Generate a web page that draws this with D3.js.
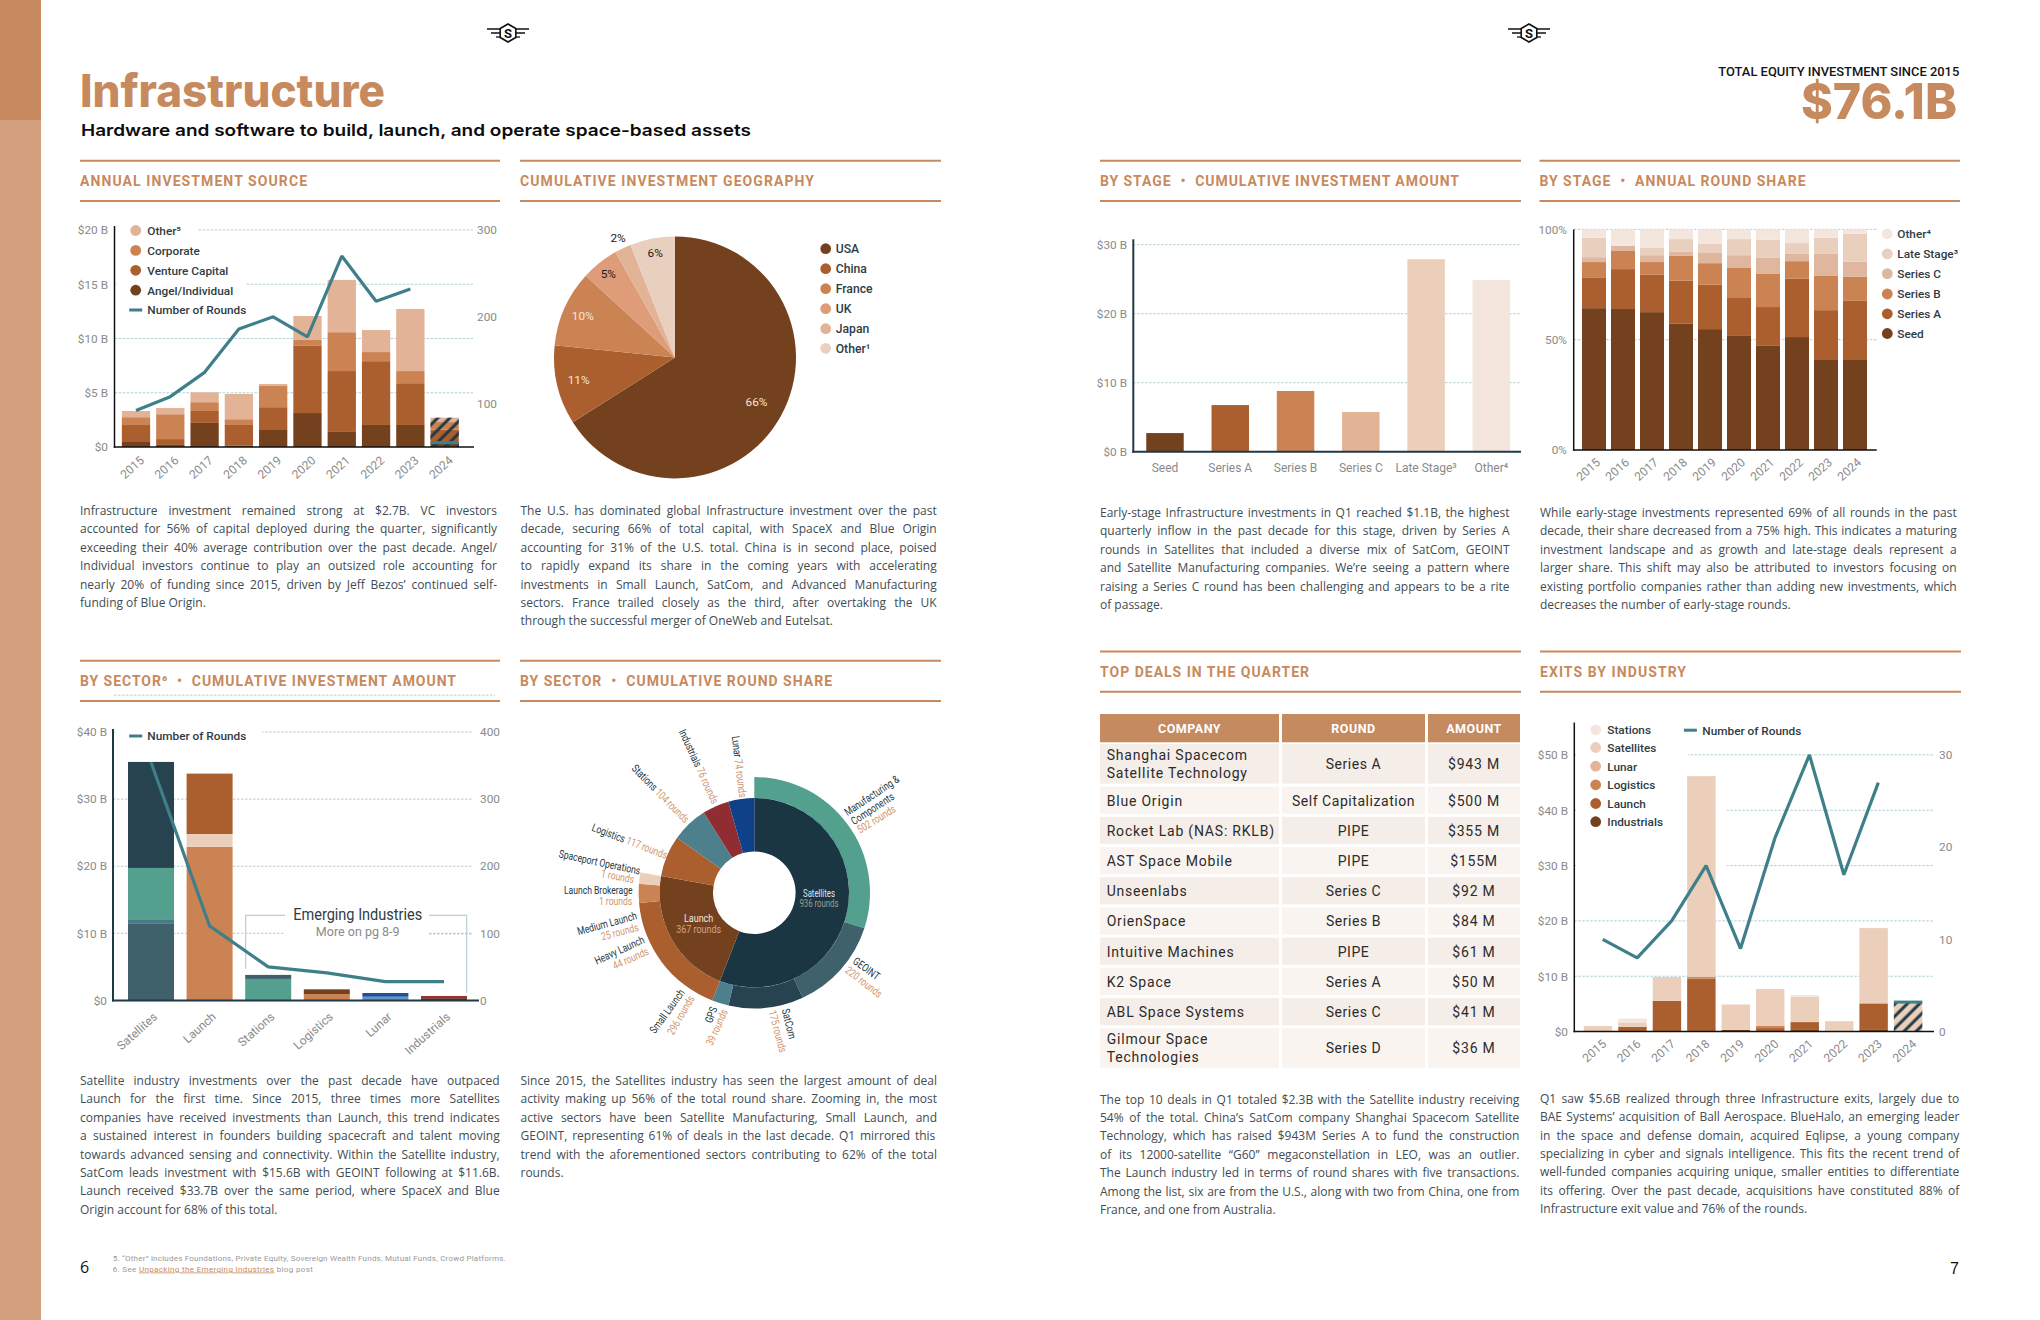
<!DOCTYPE html>
<html><head><meta charset="utf-8">
<script src="https://cdn.jsdelivr.net/npm/d3@7/dist/d3.min.js"></script>
<style>html,body{margin:0;padding:0;background:#fff}svg{display:block}</style>
</head><body><svg id="page" width="2040" height="1320" viewBox="0 0 2040 1320"></svg>
<script>
// ---------- DATA ----------
const years = ["2015","2016","2017","2018","2019","2020","2021","2022","2023","2024"];
const sourceNames = ["Angel/Individual","Venture Capital","Corporate","Other⁵"];
const sourceAngel = [.46,.19,2.22,.15,1.64,3.13,1.45,2.03,2.03,.28];
const sourceVC = [1.57,.54,1.1,1.88,2.03,6.19,5.55,5.88,3.85,1.32];
const sourceCorp = [.72,2.29,.81,.53,1.95,.54,3.58,.84,1.12,.7];
const sourceOther = [.57,.58,.91,2.33,.19,2.21,4.82,2.03,5.72,.4];
const sourceRounds = [92,108,136,186,200,177,270,218,232];
const sourceRounds2024 = 55;

const geoNames = ["USA","China","France","UK","Japan","Other¹"];
const geoValues = [66,10.6,10.2,5,2.2,6];

const sectorNames = ["Satellites","Launch","Stations","Logistics","Lunar","Industrials"];
const sectorSatellites = [11.4,.7,7.64,15.8];
const sectorLaunch = [22.9,1.9,9.0];
const sectorStations = [3.2,.6];
const sectorLogistics = [.95,.7];
const sectorLunar = [.55,.55];
const sectorIndustrials = [.33,.33];
const sectorRounds = [355,111,50,41,28,28];

const satChildren = ["Manufacturing & Components","GEOINT","SatCom","GPS"];
const satRounds = [502,220,175,39];
const launchChildren = ["Small Launch","Heavy Launch","Medium Launch","Launch Brokerage","Spaceport Operations"];
const launchRounds = [296,44,25,1,1];
const otherSectors = ["Logistics","Stations","Industrials","Lunar"];
const otherRounds = [117,104,76,74];

const stageNames = ["Seed","Series A","Series B","Series C","Late Stage³","Other⁴"];
const stageAmounts = [2.7,6.76,8.8,5.75,27.9,24.9];

const shareSeed = [64.3,63.9,62.5,57.2,54.8,51.7,47.2,51.2,40.8,40.8];
const shareA = [13.7,18.1,16.9,19.5,20.1,17.2,17.6,26.4,22.6,26.8];
const shareB = [7.2,8.2,5.8,11.3,9.8,13.6,15,8,15.5,10.9];
const shareC = [2.2,2.3,3.1,1.8,4.6,5.8,7.3,3.3,10,6.9];
const shareLate = [8.8,0,3.3,5.8,4.1,7.3,8.2,4.9,7.3,12.6];
const shareOther = [3.8,7.5,8.4,4.4,6.6,4.4,4.7,6.2,3.8,2];

const dealCompanies = [["Shanghai Spacecom","Satellite Technology"],["Blue Origin"],["Rocket Lab (NAS: RKLB)"],["AST Space Mobile"],["Unseenlabs"],["OrienSpace"],["Intuitive Machines"],["K2 Space"],["ABL Space Systems"],["Gilmour Space","Technologies"]];
const dealRounds = ["Series A","Self Capitalization","PIPE","PIPE","Series C","Series B","PIPE","Series A","Series C","Series D"];
const dealAmounts = ["$943 M","$500 M","$355 M","$155M","$92 M","$84 M","$61 M","$50 M","$41 M","$36 M"];

const exitNames = ["Industrials","Launch","Logistics","Lunar","Satellites","Stations"];
const exitIndustrials = [0,0,0,0,.3,0,.3,0,.3,0];
const exitLaunch = [0,.86,5.56,9.56,0,.63,1.42,0,4.8,0];
const exitLogistics = [0,0,0,.3,0,.39,0,0,0,0];
const exitLunar = [0,0,0,0,0,0,0,0,0,0];
const exitSatellites = [1,.8,4.31,36.3,4.56,6.66,4.55,1.88,13.6,5.3];
const exitStations = [0,.7,0,0,.14,0,.31,0,0,0];
const exitRounds = [10,8,12,18,9,21,30,17,27];
const exitRounds2024 = 3.2;

// ---------- STYLE ----------
const C = {brown:"#74411f",rust:"#ab5f2e",orange:"#cb8354",peach:"#df9c79",tan:"#e2b396",sand:"#ebcfbb",pale:"#f4e5dd",
  head:"#c78a5e",teal:"#3f7f8a",navy:"#1f3945",grid:"#a9c8cc",tick:"#8a8a8a",ink:"#2f3c44",body:"#414c53",
  sea:"#53a08f",slate:"#3e616b",deep:"#27434f",mid:"#4d7f8d",core:"#193642"};
const svg = d3.select("#page");
const ROB = "Roboto, sans-serif", OS = "'Open Sans', sans-serif", INT = "Inter, sans-serif";
const defs = svg.append("defs");
const hatch = defs.append("pattern").attr("id","hatch").attr("patternUnits","userSpaceOnUse")
  .attr("width",8.6).attr("height",8.6).attr("patternTransform","rotate(45)");
hatch.append("line").attr("x1",3).attr("x2",3).attr("y1",0).attr("y2",8.6).attr("stroke",C.navy).attr("stroke-width",3);

function txt(g,s,x,y,o={}){
  const t=g.append("text").attr("x",x).attr("y",y).text(s)
    .attr("font-family",o.font||ROB).attr("font-size",o.size||12).attr("font-weight",o.weight||400)
    .attr("fill",o.fill||C.ink).attr("text-anchor",o.anchor||"start");
  if(o.ls) t.attr("letter-spacing",o.ls);
  if(o.len) t.attr("textLength",o.len).attr("lengthAdjust",o.adj||"spacingAndGlyphs");
  return t;
}

// page furniture
svg.append("rect").attr("width",2040).attr("height",1320).attr("fill","#fff");
svg.append("rect").attr("width",41).attr("height",1320).attr("fill","#d2a07d");
svg.append("rect").attr("width",41).attr("height",120).attr("fill","#c88a5f");
txt(svg,"Infrastructure",80,107,{font:INT,size:45,weight:800,fill:C.head,len:305});
txt(svg,"Hardware and software to build, launch, and operate space-based assets",81,136,{font:INT,size:16.5,weight:600,fill:"#0c0c0c",len:670});
txt(svg,"TOTAL EQUITY INVESTMENT SINCE 2015",1718.3,75.5,{size:13.5,weight:500,fill:"#151515",len:241});
txt(svg,"$76.1B",1957,119.3,{font:INT,size:50,weight:800,fill:C.head,anchor:"end",len:156});
txt(svg,"6",80,1273,{font:OS,size:16,fill:"#111"});
txt(svg,"7",1959,1274,{font:"'Liberation Sans',sans-serif",size:16,fill:"#111",anchor:"end"});
const fn=svg.append("g");
txt(fn,"5. “Other” includes Foundations, Private Equity, Sovereign Wealth Funds, Mutual Funds, Crowd Platforms.",112.7,1261,{size:8,fill:"#999",len:393,adj:"spacing"});
const fn2=txt(fn,"6. See ",112.7,1271.5,{size:8,fill:"#999",ls:.35});
fn2.append("tspan").text("Unpacking the Emerging Industries").attr("fill",C.head).attr("text-decoration","underline");
fn2.append("tspan").text(" blog post");

function logo(cx,cy){
  const g=svg.append("g").attr("transform",`translate(${cx},${cy})`).attr("stroke","#111").attr("fill","none");
  [[-21,21,-4,1.6],[-17,17,0,1.4],[-12,12,4,1.3]].forEach(d=>g.append("line").attr("x1",d[0]).attr("x2",d[1]).attr("y1",d[2]).attr("y2",d[2]).attr("stroke-width",d[3]));
  const r=9, pts=d3.range(6).map(i=>[r*Math.sin(i*Math.PI/3),r*Math.cos(i*Math.PI/3)]);
  g.append("polygon").attr("points",pts.join(" ")).attr("fill","#fff").attr("stroke-width",1.6);
  txt(g,"S",0,4.6,{size:13,weight:700,fill:"#111",anchor:"middle"}).attr("stroke","none");
}
logo(508,33); logo(1529,33);

// section headers
[["ANNUAL INVESTMENT SOURCE",80,500,160.7,227],["CUMULATIVE INVESTMENT GEOGRAPHY",520,941,160.7,294],
 ["BY SECTOR⁶  •  CUMULATIVE INVESTMENT AMOUNT",80,500,660.7,376],["BY SECTOR  •  CUMULATIVE ROUND SHARE",520,941,660.7,312],
 ["BY STAGE  •  CUMULATIVE INVESTMENT AMOUNT",1100,1521,160.7,359],["BY STAGE  •  ANNUAL ROUND SHARE",1539.5,1960,160.7,266],
 ["TOP DEALS IN THE QUARTER",1100,1521,651.6,209],["EXITS BY INDUSTRY",1540,1961,651.6,146]]
.forEach(([s,x1,x2,y,w])=>{
  [y,y+40.2].forEach(yy=>svg.append("line").attr("x1",x1).attr("x2",x2).attr("y1",yy).attr("y2",yy).attr("stroke",C.head).attr("stroke-width",2));
  txt(svg,s,x1,y+25.2,{size:14,weight:700,fill:C.head,len:w,adj:"spacing"}).style("white-space","pre").attr("xml:space","preserve");
});

// justified paragraphs
function para(lines,x,right,y){
  const g=svg.append("g"), w=right-x;
  lines.forEach((s,i)=>{
    const t=txt(g,s,x,y+i*18.4,{font:OS,size:12,fill:C.body});
    const n=(s.match(/ /g)||[]).length, L=t.node().getComputedTextLength();
    if(i<lines.length-1 && n>0) t.attr("word-spacing",(w-L)/n);
  });
}
para(["Infrastructure investment remained strong at $2.7B. VC investors","accounted for 56% of capital deployed during the quarter, significantly","exceeding their 40% average contribution over the past decade. Angel/","Individual investors continue to play an outsized role accounting for","nearly 20% of funding since 2015, driven by Jeff Bezos’ continued self-","funding of Blue Origin."],80,497,515);
para(["The U.S. has dominated global Infrastructure investment over the past","decade, securing 66% of total capital, with SpaceX and Blue Origin","accounting for 31% of the U.S. total. China is in second place, poised","to rapidly expand its share in the coming years with accelerating","investments in Small Launch, SatCom, and Advanced Manufacturing","sectors. France trailed closely as the third, after overtaking the UK","through the successful merger of OneWeb and Eutelsat."],520.5,936.7,515);
para(["Satellite industry investments over the past decade have outpaced","Launch for the first time. Since 2015, three times more Satellites","companies have received investments than Launch, this trend indicates","a sustained interest in founders building spacecraft and talent moving","towards advanced sensing and connectivity. Within the Satellite industry,","SatCom leads investment with $15.6B with GEOINT following at $11.6B.","Launch received $33.7B over the same period, where SpaceX and Blue","Origin account for 68% of this total."],80,499.7,1085);
para(["Since 2015, the Satellites industry has seen the largest amount of deal","activity making up 56% of the total round share. Zooming in, the most","active sectors have been Satellite Manufacturing, Small Launch, and","GEOINT, representing  61% of deals in the last decade. Q1 mirrored this","trend with the aforementioned sectors contributing to 62% of the total","rounds."],520.5,937,1085);
para(["Early-stage Infrastructure investments in Q1 reached $1.1B, the highest","quarterly inflow in the past decade for this stage, driven by Series A","rounds in Satellites that included a diverse mix of SatCom, GEOINT","and Satellite Manufacturing companies. We’re seeing a pattern where","raising a Series C round has been challenging and appears to be a rite","of passage."],1100,1509.5,517);
para(["While early-stage investments represented 69% of all rounds in the past","decade, their share decreased from a 75% high. This indicates a maturing","investment landscape and as growth and late-stage deals represent a","larger share. This shift may also be attributed to investors focusing on","existing portfolio companies rather than adding new investments, which","decreases the number of early-stage rounds."],1540,1956.7,517);
para(["The top 10 deals in Q1 totaled $2.3B with the Satellite industry receiving","54% of the total. China’s SatCom company Shanghai Spacecom Satellite","Technology, which has raised $943M Series A to fund the construction","of its 12000-satellite “G60” megaconstellation in LEO, was an outlier.","The Launch industry led in terms of round shares with five transactions.","Among the list, six are from the U.S., along with two from China, one from","France, and one from Australia."],1100,1519.3,1103.5);
para(["Q1 saw $5.6B realized through three Infrastructure exits, largely due to","BAE Systems’ acquisition of Ball Aerospace. BlueHalo, an emerging leader","in the space and defense domain, acquired Eqlipse, a young company","specializing in cyber and signals intelligence. This fits the recent trend of","well-funded companies acquiring unique, smaller entities to differentiate","its offering. Over the past decade, acquisitions have constituted 88% of","Infrastructure exit value and 76% of the rounds."],1540,1959.3,1102.7);

// ---------- helpers ----------
const moneyTick = d => d===0 ? "$0" : `$${d} B`;
function grid(g,scale,vals,x1,x2){
  g.append("g").selectAll("line").data(vals).join("line").attr("x1",x1).attr("x2",x2)
   .attr("y1",d=>scale(d)).attr("y2",d=>scale(d)).attr("stroke",C.grid).attr("stroke-width",.9).attr("stroke-dasharray","2.5 1.5");
}
function mask(g,x,y,w,h){g.append("rect").attr("x",x).attr("y",y).attr("width",w).attr("height",h).attr("fill","#fff");}
function valueAxis(g,scale,side,x,vals,fmt,pad){
  const a=(side==="l"?d3.axisLeft:d3.axisRight)(scale).tickValues(vals).tickFormat(fmt).tickSize(0).tickPadding(pad);
  const ax=g.append("g").attr("transform",`translate(${x},0)`).call(a);
  ax.select(".domain").remove();
  ax.selectAll("text").attr("font-family",ROB).attr("font-size",11.8).attr("fill",C.tick);
  ax.attr("font-family",null).attr("font-size",null);
}
function catAxis(g,x,yBase,dx,dy,rot){
  const ax=g.append("g").attr("transform",`translate(0,${yBase})`).call(d3.axisBottom(x).tickSize(0).tickPadding(0));
  ax.select(".domain").remove();
  const t=ax.selectAll("text").attr("font-family",ROB).attr("font-size",12).attr("fill",C.tick).attr("dy",null);
  if(rot) t.attr("y",0).attr("text-anchor","end").attr("transform",`translate(${dx},${dy}) rotate(${rot})`).attr("dominant-baseline","middle");
  else t.attr("y",dy).attr("dominant-baseline","alphabetic");
  ax.attr("font-family",null).attr("font-size",null);
}
function frame(g,xL,yTop,yBase,xR,color,w){
  g.append("line").attr("x1",xL).attr("x2",xL).attr("y1",yTop).attr("y2",yBase+w/2).attr("stroke",color).attr("stroke-width",w);
  g.append("line").attr("x1",xL-w/2).attr("x2",xR).attr("y1",yBase).attr("y2",yBase).attr("stroke",color).attr("stroke-width",w);
}
function stackBars(g,cats,names,series,colors,x,y){
  const rows=cats.map((c,i)=>{const r={cat:c};names.forEach((n,j)=>r[n]=series[j][i]);return r;});
  const layers=d3.stack().keys(names)(rows);
  g.append("g").selectAll("g").data(layers).join("g").attr("fill",(d,i)=>colors[i])
   .selectAll("rect").data(d=>d).join("rect").attr("x",d=>x(d.data.cat)).attr("width",x.bandwidth())
   .attr("y",d=>y(d[1])).attr("height",d=>Math.max(0,y(d[0])-y(d[1])));
  return rows;
}
function roundsLine(g,cats,vals,x,y,off=0){
  g.append("path").attr("fill","none").attr("stroke",C.teal).attr("stroke-width",3.2).attr("stroke-linejoin","bevel")
   .attr("d",d3.line().x((d,i)=>x(cats[i])+x.bandwidth()/2+off).y(d=>y(d))(vals));
}
function legend(g,items,x,tx,ys,size){
  items.forEach((it,i)=>{
    if(it.line) g.append("line").attr("x1",x-6.5).attr("x2",x+6.5).attr("y1",ys[i]).attr("y2",ys[i]).attr("stroke",it.color).attr("stroke-width",3);
    else g.append("circle").attr("cx",x).attr("cy",ys[i]).attr("r",5.4).attr("fill",it.color);
    txt(g,it.name,tx,ys[i]+4.3,{size:size||11.8,weight:500,fill:C.ink});
  });
}

// ---------- Chart 1: annual investment source ----------
{
  const g=svg.append("g");
  const y=d3.scaleLinear().domain([0,20]).range([447,230]);
  const yR=d3.scaleLinear().domain([50,300]).range([447,230]);
  const x=d3.scaleBand().domain(years).range([118.85,461.8]).paddingInner(.175).paddingOuter(.0875);
  const colors=[C.brown,C.rust,C.orange,C.tan];
  grid(g,y,[5,10,15,20],114.5,474);
  mask(g,116,222,82,18); mask(g,116,240,129,76);
  const rows=stackBars(g,years,sourceNames,[sourceAngel,sourceVC,sourceCorp,sourceOther],colors,x,y);
  const last=rows[rows.length-1], tot=sourceNames.reduce((a,n)=>a+last[n],0);
  g.append("rect").attr("x",x("2024")).attr("width",x.bandwidth()).attr("y",y(tot)).attr("height",y(0)-y(tot)).attr("fill","url(#hatch)");
  frame(g,114.5,226,447,474,"#111",1.5);
  roundsLine(g,years.slice(0,9),sourceRounds,x,yR);
  g.append("line").attr("x1",x("2024")).attr("x2",x("2024")+x.bandwidth()).attr("y1",yR(sourceRounds2024)).attr("y2",yR(sourceRounds2024)).attr("stroke",C.teal).attr("stroke-width",3);
  valueAxis(g,y,"l",114,[0,5,10,15,20],moneyTick,6);
  valueAxis(g,yR,"r",474,[100,200,300],d=>d,3);
  catAxis(g,x,447,7,12,-42);
  legend(g,[{name:"Other⁵",color:C.tan},{name:"Corporate",color:C.orange},{name:"Venture Capital",color:C.rust},{name:"Angel/Individual",color:C.brown},{name:"Number of Rounds",color:C.teal,line:1}],135.7,147.3,[230.5,250.4,270.3,290.2,310]);
}

// ---------- Chart 2: geography pie ----------
{
  const g=svg.append("g").attr("transform","translate(675,357.4)");
  const colors=[C.brown,C.rust,C.orange,C.peach,C.tan,"#e9cfbe"];
  const labelR=[93,99,101,107,132,106];
  const labelFill=["#f5e6dc","#f5e6dc","#f5e6dc","#1a1a1a","#1a1a1a","#1a1a1a"];
  const arcs=d3.pie().sort(null)(geoValues);
  const arc=d3.arc().innerRadius(0).outerRadius(121);
  g.selectAll("path").data(arcs).join("path").attr("d",arc).attr("fill",(d,i)=>colors[i]);
  g.selectAll("text").data(arcs).join("text").text(d=>d3.format(".0f")(d.value)+"%")
   .attr("transform",(d,i)=>{const a=(d.startAngle+d.endAngle)/2;return `translate(${labelR[i]*Math.sin(a)},${-labelR[i]*Math.cos(a)+4})`;})
   .attr("text-anchor","middle").attr("font-family",ROB).attr("font-size",11.8).attr("fill",(d,i)=>labelFill[i]);
  legend(svg.append("g"),geoNames.map((n,i)=>({name:n,color:colors[i]})),825.7,835.7,[248.7,268.7,288.7,308.7,328.7,348.3],12.2);
}

// ---------- Chart 3: sector amount ----------
{
  const g=svg.append("g");
  const y=d3.scaleLinear().domain([0,40]).range([1000.4,732]);
  const yR=d3.scaleLinear().domain([0,400]).range([1000.4,732]);
  const x=d3.scaleBand().domain(sectorNames).range([121.7,473.3]).paddingInner(.215).paddingOuter(.1075);
  const stacks=[sectorSatellites,sectorLaunch,sectorStations,sectorLogistics,sectorLunar,sectorIndustrials];
  const colors=[[C.slate,"#4a7a87",C.sea,C.deep],[C.orange,C.sand,C.rust],[C.sea,C.slate],[C.orange,C.brown],["#6d92c5","#1d4f9c"],["#5a2a22","#9e2f2c"]];
  grid(g,y,[10,20,30,40],113,473);
  grid(g,y,[45.5],114,495);
  mask(g,115,725,147,16); mask(g,285,905,144,36);
  g.append("line").attr("x1",429).attr("x2",473).attr("y1",934).attr("y2",934).attr("stroke",C.grid).attr("stroke-width",.9).attr("stroke-dasharray","2.5 1.5");
  stacks.forEach((vals,i)=>{
    const ends=d3.cumsum(vals);
    g.selectAll(null).data(vals).join("rect").attr("x",x(sectorNames[i])).attr("width",x.bandwidth())
     .attr("y",(d,j)=>y(ends[j])).attr("height",d=>y(0)-y(d)).attr("fill",(d,j)=>colors[i][j]);
  });
  g.append("path").attr("fill","none").attr("stroke","#b5d0d3").attr("stroke-width",1.2).attr("d","M245.7 969V915.4H285");
  g.append("path").attr("fill","none").attr("stroke","#b5d0d3").attr("stroke-width",1.2).attr("d","M429 915.4H466.7V993");
  txt(g,"Emerging Industries",357.7,920,{size:16,anchor:"middle",len:129});
  txt(g,"More on pg 8-9",357.7,936,{size:12.5,anchor:"middle",fill:C.tick});
  frame(g,113,729,1000.4,479,C.navy,2);
  roundsLine(g,sectorNames,sectorRounds,x,yR);
  valueAxis(g,y,"l",113,[0,10,20,30,40],moneyTick,6);
  valueAxis(g,yR,"r",477,[0,100,200,300,400],d=>d,3);
  catAxis(g,x,1000.4,5,15,-42);
  legend(g,[{name:"Number of Rounds",color:C.teal,line:1}],135.7,147.3,[736]);
}

// ---------- Chart 4: sunburst ----------
{
  const cx=754.3, cy=892.7;
  const g=svg.append("g").attr("transform",`translate(${cx},${cy})`);
  const data={name:"root",children:[
    {name:"Satellites",children:satChildren.map((n,i)=>({name:n,value:satRounds[i]}))},
    {name:"Launch",children:launchChildren.map((n,i)=>({name:n,value:launchRounds[i]}))},
    ...otherSectors.map((n,i)=>({name:n,value:otherRounds[i]}))]};
  const root=d3.partition().size([2*Math.PI,1])(d3.hierarchy(data).sum(d=>d.value));
  const fill={"Satellites":C.core,"Launch":C.brown,"Logistics":C.rust,"Stations":C.mid,"Industrials":"#8f2d32","Lunar":"#0f4189",
    "Manufacturing & Components":C.sea,"GEOINT":C.slate,"SatCom":C.deep,"GPS":C.mid,"Small Launch":C.rust,"Heavy Launch":C.orange,"Medium Launch":C.sand,"Launch Brokerage":C.tan,"Spaceport Operations":C.pale};
  const arc=d3.arc().startAngle(d=>d.x0).endAngle(d=>d.x1).innerRadius(d=>d.depth===1?41.3:94.7).outerRadius(d=>d.depth===1?94.7:115.7);
  const nodes=root.descendants().filter(d=>d.depth>0).sort((a,b)=>b.depth-a.depth);
  g.selectAll("path").data(nodes).join("path").attr("d",arc).attr("fill",d=>fill[d.data.name]);
  const count=n=>`${root.descendants().find(d=>d.data.name===n).value} rounds`;
  const O="#cf966f", D="#24363f";
  // label placement in reference pixels relative to the chart centre
  const z=(a,b)=>[(a-733)/3,(b-728)/3];
  function lab(parts,pt,rot,anchor,size=11){
    const [a,b]=z(pt[0],pt[1]);
    const t=g.append("text").attr("transform",`translate(${a},${b}) rotate(${rot}) scale(.78,1)`)
      .attr("text-anchor",anchor||"start").attr("dominant-baseline","middle").attr("font-family",ROB).attr("font-size",size);
    parts.forEach(p=>t.append("tspan").text(p[0]).attr("fill",p[1]));
  }
  [["Lunar",[675,258],83],["Industrials",[515,240],65.4],["Stations",[370,350],45.5],["Logistics",[247,532],20.9]]
    .forEach(([n,p,r])=>lab([[n+" ",D],[count(n),O]],p,r));
  lab([["Spaceport Operations",D]],[147,612],12); lab([[count("Spaceport Operations"),O]],[372,690],11,"end");
  lab([["Launch Brokerage",D]],[368,722],0,"end"); lab([[count("Launch Brokerage"),O]],[367,755],0,"end");
  lab([["Medium Launch",D]],[380,797],-15.5,"end"); lab([[count("Medium Launch"),O]],[385,832],-15,"end");
  lab([["Heavy Launch",D]],[402,868],-24.6,"end"); lab([[count("Heavy Launch"),O]],[415,903],-24,"end");
  lab([["Small Launch",D]],[518,1022],-54,"end"); lab([[count("Small Launch"),O]],[546,1040],-60,"end");
  lab([["GPS",D]],[613,1072],-70,"end"); lab([[count("GPS"),O]],[645,1080],-66,"end");
  lab([["SatCom",D]],[825,1077],76); lab([[count("SatCom"),O]],[785,1082],75);
  lab([["GEOINT",D]],[1032,930],36); lab([[count("GEOINT"),O]],[1010,957],38);
  lab([["Manufacturing &",D]],[1007,490],-33.6); lab([["Components",D]],[1027,517],-33); lab([[count("Manufacturing & Components"),O]],[1045,543],-32);
  lab([["Satellites","#e5e5e5"]],[927,733],0,"middle",10); lab([[count("Satellites"),"#a59a8e"]],[927,763],0,"middle",10);
  lab([["Launch","#f3e6dc"]],[566,807],0,"middle",11.5); lab([[count("Launch"),"#d4a27f"]],[566,840],0,"middle",11.5);
}

// ---------- Chart 5: stage amount ----------
{
  const g=svg.append("g");
  const y=d3.scaleLinear().domain([0,30]).range([451.7,244.7]);
  const x=d3.scaleBand().domain(stageNames).range([1132.35,1524]).paddingInner(.426).paddingOuter(.213);
  const colors=[C.brown,C.rust,C.orange,C.tan,C.sand,C.pale];
  grid(g,y,[10,20,30],1133,1520);
  g.selectAll(null).data(stageAmounts).join("rect").attr("x",(d,i)=>x(stageNames[i])).attr("width",x.bandwidth())
   .attr("y",d=>y(d)).attr("height",d=>y(0)-y(d)).attr("fill",(d,i)=>colors[i]);
  frame(g,1133.3,239.3,451.7,1521,C.navy,2);
  valueAxis(g,y,"l",1133,[0,10,20,30],d=>`$${d} B`,6);
  catAxis(g,x,451.7,0,20);
}

// ---------- Chart 6: stage share ----------
{
  const g=svg.append("g");
  const y=d3.scaleLinear().domain([0,100]).range([450,229.4]);
  const x=d3.scaleBand().domain(years).range([1579.5,1869.5]).paddingInner(.172).paddingOuter(.086);
  const colors=[C.brown,C.rust,C.orange,"#dfb79e","#e8cfbe",C.pale];
  grid(g,y,[50,100],1574,1876.7);
  stackBars(g,years,["Seed","A","B","C","Late","Oth"],[shareSeed,shareA,shareB,shareC,shareLate,shareOther],colors,x,y);
  frame(g,1573.7,229.4,450,1876.7,"#111",1.5);
  valueAxis(g,y,"l",1573,[0,50,100],d=>`${d}%`,6);
  catAxis(g,x,450,5,11,-42);
  const names=["Other⁴","Late Stage³","Series C","Series B","Series A","Seed"];
  legend(g,names.map((n,i)=>({name:n,color:colors[5-i]})),1887.3,1897.3,[233.8,253.9,273.6,294,313.8,333.5]);
}

// ---------- Chart 7: deals table ----------
{
  const g=svg.append("g");
  const cols=[[1100,1279],[1282,1425],[1428,1520]];
  ["COMPANY","ROUND","AMOUNT"].forEach((h,i)=>{
    g.append("rect").attr("x",cols[i][0]).attr("y",714).attr("width",cols[i][1]-cols[i][0]).attr("height",28.3).attr("fill","#c58a5f");
    txt(g,h,(cols[i][0]+cols[i][1])/2,732.6,{size:12.5,weight:700,fill:"#fff",anchor:"middle",ls:.5});
  });
  let top=744;
  dealCompanies.forEach((co,i)=>{
    const h=co.length>1?39.6:27.2, mid=top+h/2;
    const f=i%2===0?"#f5ede7":"#faf4f0";
    cols.forEach(c=>g.append("rect").attr("x",c[0]).attr("y",top).attr("width",c[1]-c[0]).attr("height",h).attr("fill",f));
    const o={size:14,fill:"#2b2b2b",ls:.8};
    co.forEach((s,j)=>txt(g,s,1106.7,mid+5.3+(j-(co.length-1)/2)*18,o));
    txt(g,dealRounds[i],1353.5,mid+5.3,{...o,anchor:"middle",ls:.55});
    txt(g,dealAmounts[i],1474,mid+5.3,{...o,anchor:"middle"});
    top+=h+3;
  });
}

// ---------- Chart 8: exits ----------
{
  const g=svg.append("g");
  const y=d3.scaleLinear().domain([0,50]).range([1031.6,754.9]);
  const yR=d3.scaleLinear().domain([0,30]).range([1031.6,754.9]);
  const x=d3.scaleBand().domain(years).range([1580.8,1925.3]).paddingInner(.175).paddingOuter(.0875);
  const colors=[C.brown,C.rust,C.orange,C.tan,C.sand,C.pale];
  grid(g,y,[10,20,30,40,50],1574.3,1933);
  mask(g,1576,748,111.7,14); mask(g,1576,800,150.7,72);
  const rows=stackBars(g,years,exitNames,[exitIndustrials,exitLaunch,exitLogistics,exitLunar,exitSatellites,exitStations],colors,x,y);
  const last=rows[rows.length-1], tot=exitNames.reduce((a,n)=>a+last[n],0);
  g.append("rect").attr("x",x("2024")).attr("width",x.bandwidth()).attr("y",y(tot)).attr("height",y(0)-y(tot)).attr("fill","url(#hatch)");
  frame(g,1574.3,722.4,1031.6,1934,"#111",1.5);
  roundsLine(g,years.slice(0,9),exitRounds,x,yR,4.7);
  g.append("line").attr("x1",x("2024")).attr("x2",x("2024")+x.bandwidth()).attr("y1",yR(exitRounds2024)).attr("y2",yR(exitRounds2024)).attr("stroke",C.teal).attr("stroke-width",3);
  valueAxis(g,y,"l",1574,[0,10,20,30,40,50],moneyTick,6);
  valueAxis(g,yR,"r",1934,[0,10,20,30],d=>d,5);
  catAxis(g,x,1031.6,7,11,-42);
  legend(g,[{name:"Stations",color:C.pale},{name:"Satellites",color:C.sand},{name:"Lunar",color:C.tan},{name:"Logistics",color:C.orange},{name:"Launch",color:C.rust},{name:"Industrials",color:C.brown}],1595.7,1607.3,[729.8,747.5,766.2,784.8,803.5,821.7]);
  legend(g,[{name:"Number of Rounds",color:C.teal,line:1}],1690.4,1702.3,[730.2]);
}
</script></body></html>
